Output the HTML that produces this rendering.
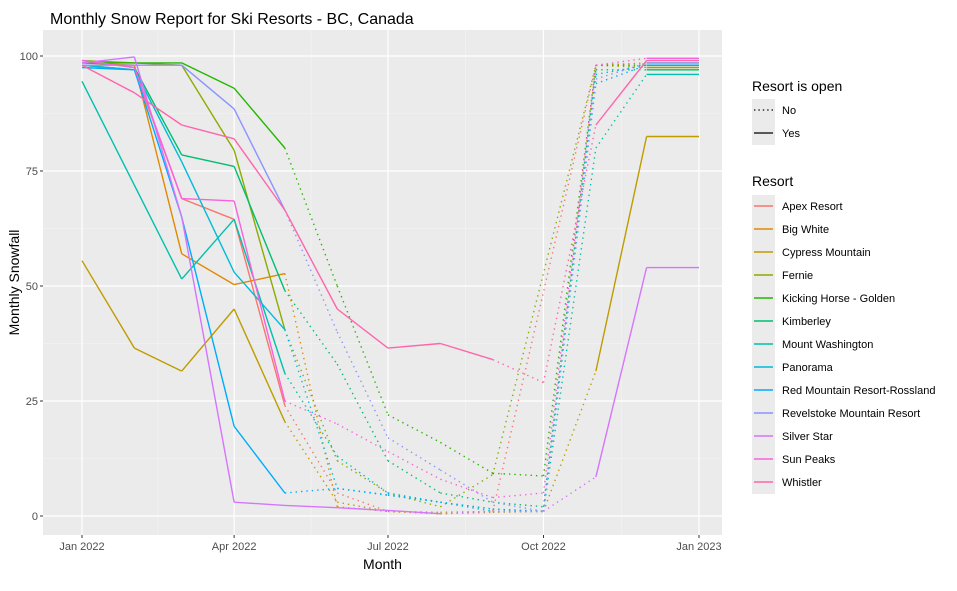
<!DOCTYPE html>
<html><head><meta charset="utf-8"><style>
body{margin:0;background:#fff;font-family:"Liberation Sans",Arial,sans-serif}
</style></head><body>
<svg id="chart" width="957" height="586" xmlns="http://www.w3.org/2000/svg"></svg>
<script>
const months = ["2022-01","2022-02","2022-03","2022-04","2022-05","2022-06","2022-07","2022-08","2022-09","2022-10","2022-11","2022-12","2023-01"];
const resorts = ["Apex Resort","Big White","Cypress Mountain","Fernie","Kicking Horse - Golden","Kimberley","Mount Washington","Panorama","Red Mountain Resort-Rossland","Revelstoke Mountain Resort","Silver Star","Sun Peaks","Whistler"];
const colors = ["#F8766D","#E18A00","#BE9C00","#8CAB00","#24B700","#00BE70","#00C1AB","#00BBDA","#00ACFC","#8B93FF","#D575FE","#F962DD","#FF65AC"];
const snowApex = [98,97,69,64.5,24,5,1,0.5,1,null,98,98,98];
const snowBigWhite = [98.5,98,57,50.3,52.7,2,1,0.5,0.8,1,98,98.5,98.5];
const snowCypress = [55.5,36.5,31.5,45,20.5,3,1,0.8,1,1,31.5,82.5,82.5];
const snowFernie = [99,98.5,98,79.5,40.5,12,5,2,9,null,98,97.5,97.5];
const snowKicking = [98.5,98.5,98.5,93,80,50,22,16,9.3,8.7,98,98,98];
const snowKimberley = [99,97.5,78.5,76,49,33,12,5,3,2,97,97,97];
const snowMtWash = [94.5,null,51.5,64.5,31,13,5,3,1.5,1,80,96,96];
const snowPanorama = [98,97,77,53,40.5,6,4.5,3,1,1,96,98,98];
const snowRedMtn = [97.5,97,65,19.5,5,6,4.6,3,1.5,1,94,98,98];
const snowRevel = [98,98,98,88.5,66.5,40,17,10,3,1,95,98.5,98.5];
const snowSilver = [98.5,99.8,65,3,2.3,1.8,1.2,0.5,1,1,8.5,54,54];
const snowSunPeaks = [99,97.5,69,68.5,25,20,14,8,4,5,98,99.5,99.5];
const snowWhistler = [98,92,85,82,66.5,45,36.5,37.5,34,29,85,99,99];
const openApex = [1,1,1,1,0,0,0,0,0,0,0,1,1];
const openBigWhite = [1,1,1,1,0,0,0,0,0,0,0,1,1];
const openCypress = [1,1,1,1,0,0,0,0,0,0,1,1,1];
const openFernie = [1,1,1,1,0,0,0,0,0,0,0,1,1];
const openKicking = [1,1,1,1,0,0,0,0,0,0,0,1,1];
const openKimberley = [1,1,1,1,0,0,0,0,0,0,0,1,1];
const openMtWash = [1,1,1,1,0,0,0,0,0,0,0,1,1];
const openPanorama = [1,1,1,1,0,0,0,0,0,0,0,1,1];
const openRedMtn = [1,1,1,1,0,0,0,0,0,0,0,1,1];
const openRevel = [1,1,1,1,0,0,0,0,0,0,0,1,1];
const openSilver = [1,1,1,1,1,1,1,0,0,0,1,1,1];
const openSunPeaks = [1,1,1,1,0,0,0,0,0,0,0,1,1];
const openWhistler = [1,1,1,1,1,1,1,1,0,0,1,1,1];
const yTicks = [0,25,50,75,100];
const xTickLabels = ["Jan 2022","Apr 2022","Jul 2022","Oct 2022","Jan 2023"];
const xTickMonths = ["2022-01","2022-04","2022-07","2022-10","2023-01"];

const allSnow=[snowApex,snowBigWhite,snowCypress,snowFernie,snowKicking,snowKimberley,snowMtWash,snowPanorama,snowRedMtn,snowRevel,snowSilver,snowSunPeaks,snowWhistler];
const allOpen=[openApex,openBigWhite,openCypress,openFernie,openKicking,openKimberley,openMtWash,openPanorama,openRedMtn,openRevel,openSilver,openSunPeaks,openWhistler];

const svg=document.getElementById('chart');
const NS='http://www.w3.org/2000/svg';
function mk(tag,attrs,parent){const e=document.createElementNS(NS,tag);for(const k in attrs)e.setAttribute(k,attrs[k]);(parent||svg).appendChild(e);return e;}
const P={l:43,r:722,t:30,b:535};
const t0=Date.UTC(2022,0,1);
function dayOf(m){const [yy,mo]=m.split('-').map(Number);return (Date.UTC(yy,mo-1,1)-t0)/864e5;}
function x(m){return 82+dayOf(m)*617/365;}
function y(v){return 516-v*4.6;}

const panel=mk('rect',{x:P.l,y:P.t,width:P.r-P.l,height:P.b-P.t,fill:'#EBEBEB'});


[12.5,37.5,62.5,87.5].forEach(v=>{const g=mk('line',{x1:P.l,x2:P.r,y1:y(v),y2:y(v),stroke:'#F5F5F5','stroke-width':0.6});});
for(let i=0;i<xTickMonths.length-1;i++){const xm=(x(xTickMonths[i])+x(xTickMonths[i+1]))/2;const g=mk('line',{x1:xm,x2:xm,y1:P.t,y2:P.b,stroke:'#F5F5F5','stroke-width':0.6});}
yTicks.forEach(v=>{
  const g=mk('line',{x1:P.l,x2:P.r,y1:y(v),y2:y(v),stroke:'#fff','stroke-width':1.2});
  
  const tk=mk('line',{x1:P.l-3,x2:P.l,y1:y(v),y2:y(v),stroke:'#333','stroke-width':1});
  
  const t=mk('text',{x:P.l-5,y:y(v)+4,'text-anchor':'end','font-size':11,fill:'#4D4D4D'});t.textContent=v;
  
});
xTickMonths.forEach((m,i)=>{
  const g=mk('line',{x1:x(m),x2:x(m),y1:P.t,y2:P.b,stroke:'#fff','stroke-width':1.2});
  
  const tk=mk('line',{x1:x(m),x2:x(m),y1:P.b,y2:P.b+3,stroke:'#333','stroke-width':1});
  
  const t=mk('text',{x:x(m),y:P.b+15,'text-anchor':'middle','font-size':11,fill:'#4D4D4D'});t.textContent=xTickLabels[i];
  
});
allSnow.forEach((vals,ri)=>{
  const grp=mk('g',{});
  
  
  const pts=[];vals.forEach((v,i)=>{if(v!==null)pts.push(i);});
  for(let k=0;k<pts.length-1;k++){
    const a=pts[k],b=pts[k+1];
    const open=allOpen[ri][a];
    const ln=mk('line',{x1:x(months[a]),y1:y(vals[a]),x2:x(months[b]),y2:y(vals[b]),stroke:colors[ri],'stroke-width':1.4,'stroke-dasharray':open?'none':'1.4 4','stroke-linecap':'butt'},grp);
    
    
  }
});
const tt=mk('text',{x:50,y:24,'font-size':16,fill:'#000'});tt.textContent='Monthly Snow Report for Ski Resorts - BC, Canada';

const xt=mk('text',{x:(P.l+P.r)/2,y:569,'text-anchor':'middle','font-size':14,fill:'#000'});xt.textContent='Month';

const yt=mk('text',{x:0,y:0,'text-anchor':'middle','font-size':14,fill:'#000',transform:'translate(19,'+((P.t+P.b)/2)+') rotate(-90)'});yt.textContent='Monthly Snowfall';

const lt=mk('text',{x:752,y:91,'font-size':14,fill:'#000'});lt.textContent='Resort is open';

[["No",'1.4 3'],["Yes",'none']].forEach((e,i)=>{
  const cy=110+i*23;
  const g=mk('g',{});
  mk('rect',{x:752,y:cy-11,width:23,height:23,fill:'#EBEBEB'},g);
  mk('line',{x1:754,x2:773,y1:cy,y2:cy,stroke:'#000','stroke-width':1.3,'stroke-dasharray':e[1]},g);
  const t=mk('text',{x:782,y:cy+4,'font-size':11,fill:'#000'},g);t.textContent=e[0];
});
const rt=mk('text',{x:752,y:186,'font-size':14,fill:'#000'});rt.textContent='Resort';

resorts.forEach((r,i)=>{
  const cy=206+i*23;
  const g=mk('g',{});
  mk('rect',{x:752,y:cy-11,width:23,height:23,fill:'#EBEBEB'},g);
  mk('line',{x1:754,x2:773,y1:cy,y2:cy,stroke:colors[i],'stroke-width':1.4},g);
  const t=mk('text',{x:782,y:cy+4,'font-size':11,fill:'#000'},g);t.textContent=r;
});
</script>
</body></html>
